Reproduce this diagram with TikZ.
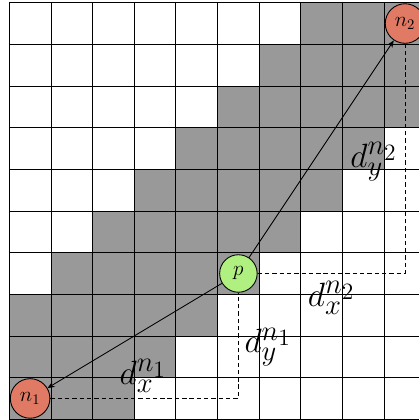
\RequirePackage{fix-cm}
\documentclass[tikz,border=0pt]{standalone}
\usetikzlibrary{arrows.meta}
% offset labels: large base size with large superscripts
\DeclareMathSizes{23}{23}{19.5}{16}
\definecolor{cellgray}{RGB}{153,153,153}
\definecolor{endred}{RGB}{224,122,100}
\definecolor{midgreen}{RGB}{176,240,128}
\begin{document}
\begin{tikzpicture}[x=1cm,y=1cm,
  endpt/.style={circle,draw,line width=0.6pt,fill=endred,minimum size=0.95cm,inner sep=0pt,font=\Large},
  midpt/.style={circle,draw,line width=0.6pt,fill=midgreen,minimum size=0.9cm,inner sep=0pt,font=\Large},
  gap/.style={draw,dash pattern=on 3pt off 2pt,line width=0.6pt},
  link/.style={draw,-{Stealth[length=5pt,width=4pt]},line width=0.6pt},
  dist/.style={font=\fontsize{23}{28}\selectfont,inner sep=0pt}]
\useasboundingbox (-0.223,-0.017) rectangle (9.832,10.065);
\clip (-0.223,-0.017) rectangle (9.832,10.065);
% shaded cells, row by row from the bottom: row/first column/last column
\foreach \r/\a/\b in {0/0/2,1/0/3,2/0/4,3/1/5,4/2/6,5/3/7,6/4/8,7/5/9,8/6/9,9/7/9}
  \fill[cellgray] (\a,\r) rectangle (\b+1,\r+1);
\draw[line width=0.6pt] (0,0) grid (10,10);
% points
\node[endpt] (n1) at (0.5,0.5) {$n_1$};
\node[endpt] (n2) at (9.5,9.5) {$n_2$};
\node[midpt] (p) at (5.5,3.5) {$p$};
% links from p
\draw[link] (p) -- (n2);
\draw[link] (p) -- (n1);
% axis offsets
\draw[gap] (n1) -- (n1 -| p) -- (p);
\draw[gap] (p) -- (p -| n2) -- (n2);
% offset labels
\node[dist] (dx1) at (3.21,1.04) {$d_x^{n_1}$};
\node[dist] (dy1) at (6.21,1.735) {$d_y^{n_1}$};
\node[dist] (dx2) at (7.73,2.91) {$d_x^{n_2}$};
\node[dist] (dy2) at (8.75,6.18) {$d_y^{n_2}$};
\end{tikzpicture}
\end{document}
